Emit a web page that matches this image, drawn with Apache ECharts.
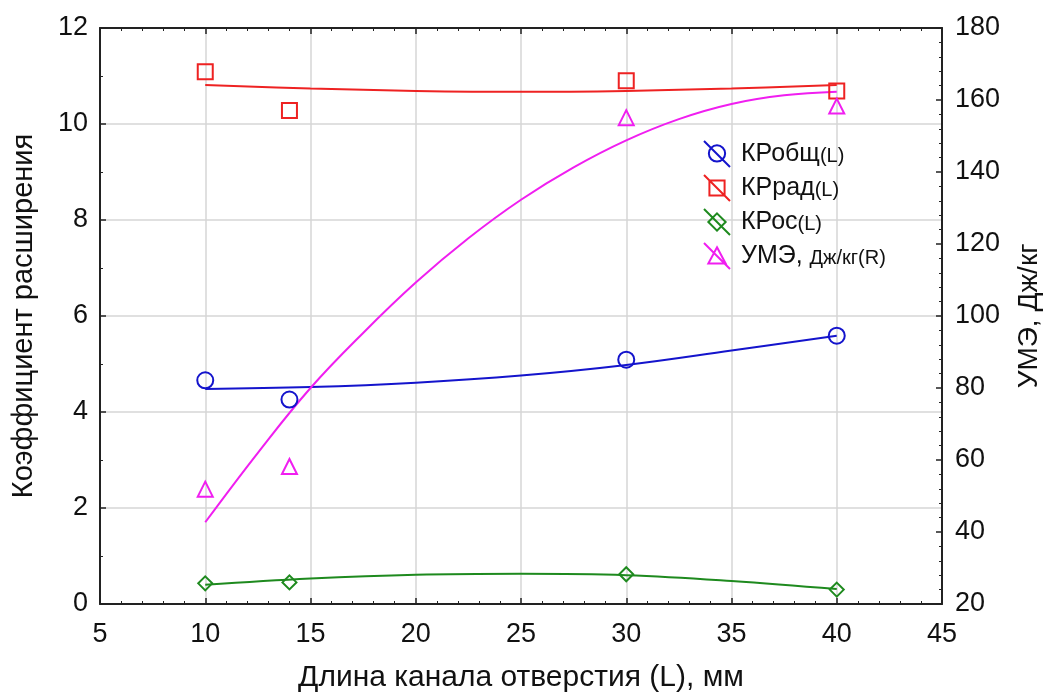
<!DOCTYPE html>
<html>
<head>
<meta charset="utf-8">
<script src="https://cdn.jsdelivr.net/npm/echarts@6/dist/echarts.min.js"></script>
<style>html,body{margin:0;padding:0;background:#fff}#c{width:1048px;height:695px}</style>
</head>
<body>
<div id="c"></div>
<script>
// Measured points
const xPts = [10, 14, 30, 40];
const krObsh = [4.66, 4.26, 5.09, 5.59];
const krRad = [11.09, 10.28, 10.90, 10.69];
const krOs = [0.43, 0.45, 0.62, 0.30];
const ume = [51.9, 58.2, 155.1, 158.3];
// Fitted curves
const fitX = [10, 15, 20, 25, 30, 35, 40];
const krObshFit = [4.48, 4.52, 4.61, 4.76, 4.98, 5.28, 5.59];
const krRadFit = [10.81, 10.74, 10.69, 10.67, 10.69, 10.74, 10.81];
const krOsFit = [0.40, 0.53, 0.61, 0.63, 0.60, 0.48, 0.31];
const umeFitX = [10, 12.5, 15, 17.5, 20, 22.5, 25, 27.5, 30, 32.5, 35, 37.5, 40];
const umeFit = [42.7, 62.0, 80.0, 95.3, 109.3, 121.6, 132.3, 141.3, 148.8, 154.7, 158.9, 161.3, 162.3];
// Names
const names = ['КРобщ', 'КРрад', 'КРос', 'УМЭ, Дж/кг'];
const suffix = ['(L)', '(L)', '(L)', '(R)'];
const colors = ['#1414cc', '#ee2222', '#1e8a1e', '#f01ef0'];
const xTitle = 'Длина канала отверстия (L), мм';
const yLeftTitle = 'Коэффициент расширения';
const yRightTitle = 'УМЭ, Дж/кг';

const pts = (xs, ys) => xs.map((x, i) => [x, ys[i]]);
const FONT = '"Liberation Sans", Arial, sans-serif';
const axisCol = '#222';

const chart = echarts.init(document.getElementById('c'));
const iconPaths = [
  'path://M1,1 L25,25 M13,5 A7.5,7.5 0 1,1 12.99,5 Z',
  'path://M1,1 L25,25 M6,6 L20,6 L20,20 L6,20 Z',
  'path://M1,1 L25,25 M13,5 L21,13 L13,21 L5,13 Z',
  'path://M1,1 L25,25 M13,5 L21,20 L5,20 Z'
];
const symbols = ['circle', 'rect', 'diamond', 'triangle'];
const sizes = [16, 15, 14, 15];
const scatterData = [krObsh, krRad, krOs, ume];
const fitXs = [fitX, fitX, fitX, umeFitX];
const fitData = [krObshFit, krRadFit, krOsFit, umeFit];

const series = [];
for (let i = 0; i < 4; i++) {
  series.push({
    name: names[i] + suffix[i],
    type: 'line',
    yAxisIndex: i === 3 ? 1 : 0,
    data: pts(fitXs[i], fitData[i]),
    smooth: 0.4,
    showSymbol: false,
    lineStyle: { color: colors[i], width: 2 },
    itemStyle: { color: colors[i] },
    z: 3,
    silent: true
  });
}
for (let i = 0; i < 4; i++) {
  series.push({
    name: names[i] + suffix[i],
    type: 'scatter',
    yAxisIndex: i === 3 ? 1 : 0,
    data: pts(xPts, scatterData[i]),
    symbol: symbols[i],
    symbolSize: sizes[i],
    itemStyle: { color: 'rgba(255,255,255,0)', borderColor: colors[i], borderWidth: 2, opacity: 1 },
    z: 4
  });
}

chart.setOption({
  animation: false,
  backgroundColor: '#fff',
  textStyle: { fontFamily: FONT },
  grid: { left: 100, right: 106, top: 28, bottom: 91, outerBoundsMode: 'none', containLabel: false },
  legend: {
    orient: 'vertical',
    left: 698,
    top: 135,
    itemWidth: 26,
    itemHeight: 26,
    itemGap: 6,
    selectedMode: false,
    data: names.map((n, i) => ({
      name: n + suffix[i],
      icon: iconPaths[i],
      itemStyle: { color: 'rgba(0,0,0,0)', borderColor: colors[i], borderWidth: 2 }
    })),
    formatter: (name) => {
      const i = names.findIndex((n, k) => n + suffix[k] === name);
      if (i === 3) return '{a|УМЭ, }{b|Дж/кг' + suffix[i] + '}';
      return '{a|' + names[i] + '}{b|' + suffix[i] + '}';
    },
    textStyle: {
      fontFamily: FONT,
      padding: [0, 0, 0, 6],
      rich: {
        a: { fontSize: 25, color: '#111', fontFamily: FONT },
        b: { fontSize: 20, color: '#111', fontFamily: FONT, padding: [4, 0, 0, 0] }
      }
    }
  },
  xAxis: [{
    type: 'value', min: 5, max: 45, interval: 5,
    name: xTitle, nameLocation: 'middle', nameGap: 59,
    nameTextStyle: { fontSize: 30, color: '#111', fontFamily: FONT },
    axisLine: { onZero: false, lineStyle: { color: axisCol, width: 2 } },
    axisTick: { inside: true, length: 6, lineStyle: { color: axisCol, width: 1.5 } },
    minorTick: { show: true, splitNumber: 5, length: 3, lineStyle: { color: axisCol } },
    axisLabel: { fontSize: 27, color: '#111', margin: 17, fontFamily: FONT },
    splitLine: { show: true, lineStyle: { color: '#d6d6d6', width: 1.5 } }
  }, {
    type: 'value', min: 5, max: 45, interval: 5, position: 'top',
    axisLine: { onZero: false, lineStyle: { color: axisCol, width: 2 } },
    axisTick: { inside: true, length: 6, lineStyle: { color: axisCol, width: 1.5 } },
    minorTick: { show: true, splitNumber: 5, length: 3, lineStyle: { color: axisCol } },
    axisLabel: { show: false },
    splitLine: { show: false }
  }],
  yAxis: [{
    type: 'value', min: 0, max: 12, interval: 2,
    name: yLeftTitle, nameLocation: 'middle', nameGap: 62, nameRotate: 90,
    nameTextStyle: { fontSize: 29, color: '#111', fontFamily: FONT },
    axisLine: { onZero: false, lineStyle: { color: axisCol, width: 2 } },
    axisTick: { inside: true, length: 6, lineStyle: { color: axisCol, width: 1.5 } },
    minorTick: { show: true, splitNumber: 2, length: 3, lineStyle: { color: axisCol } },
    axisLabel: { fontSize: 27, color: '#111', margin: 12, fontFamily: FONT },
    splitLine: { show: true, lineStyle: { color: '#d6d6d6', width: 1.5 } }
  }, {
    type: 'value', min: 20, max: 180, interval: 20, position: 'right',
    name: yRightTitle, nameLocation: 'middle', nameGap: 73, nameRotate: 90,
    nameTextStyle: { fontSize: 28, color: '#111', fontFamily: FONT },
    axisLine: { onZero: false, lineStyle: { color: axisCol, width: 2 } },
    axisTick: { inside: true, length: 6, lineStyle: { color: axisCol, width: 1.5 } },
    minorTick: { show: true, splitNumber: 5, length: 3, lineStyle: { color: axisCol } },
    axisLabel: { fontSize: 27, color: '#111', margin: 13, fontFamily: FONT },
    splitLine: { show: false }
  }],
  series: series
});
</script>
</body>
</html>
